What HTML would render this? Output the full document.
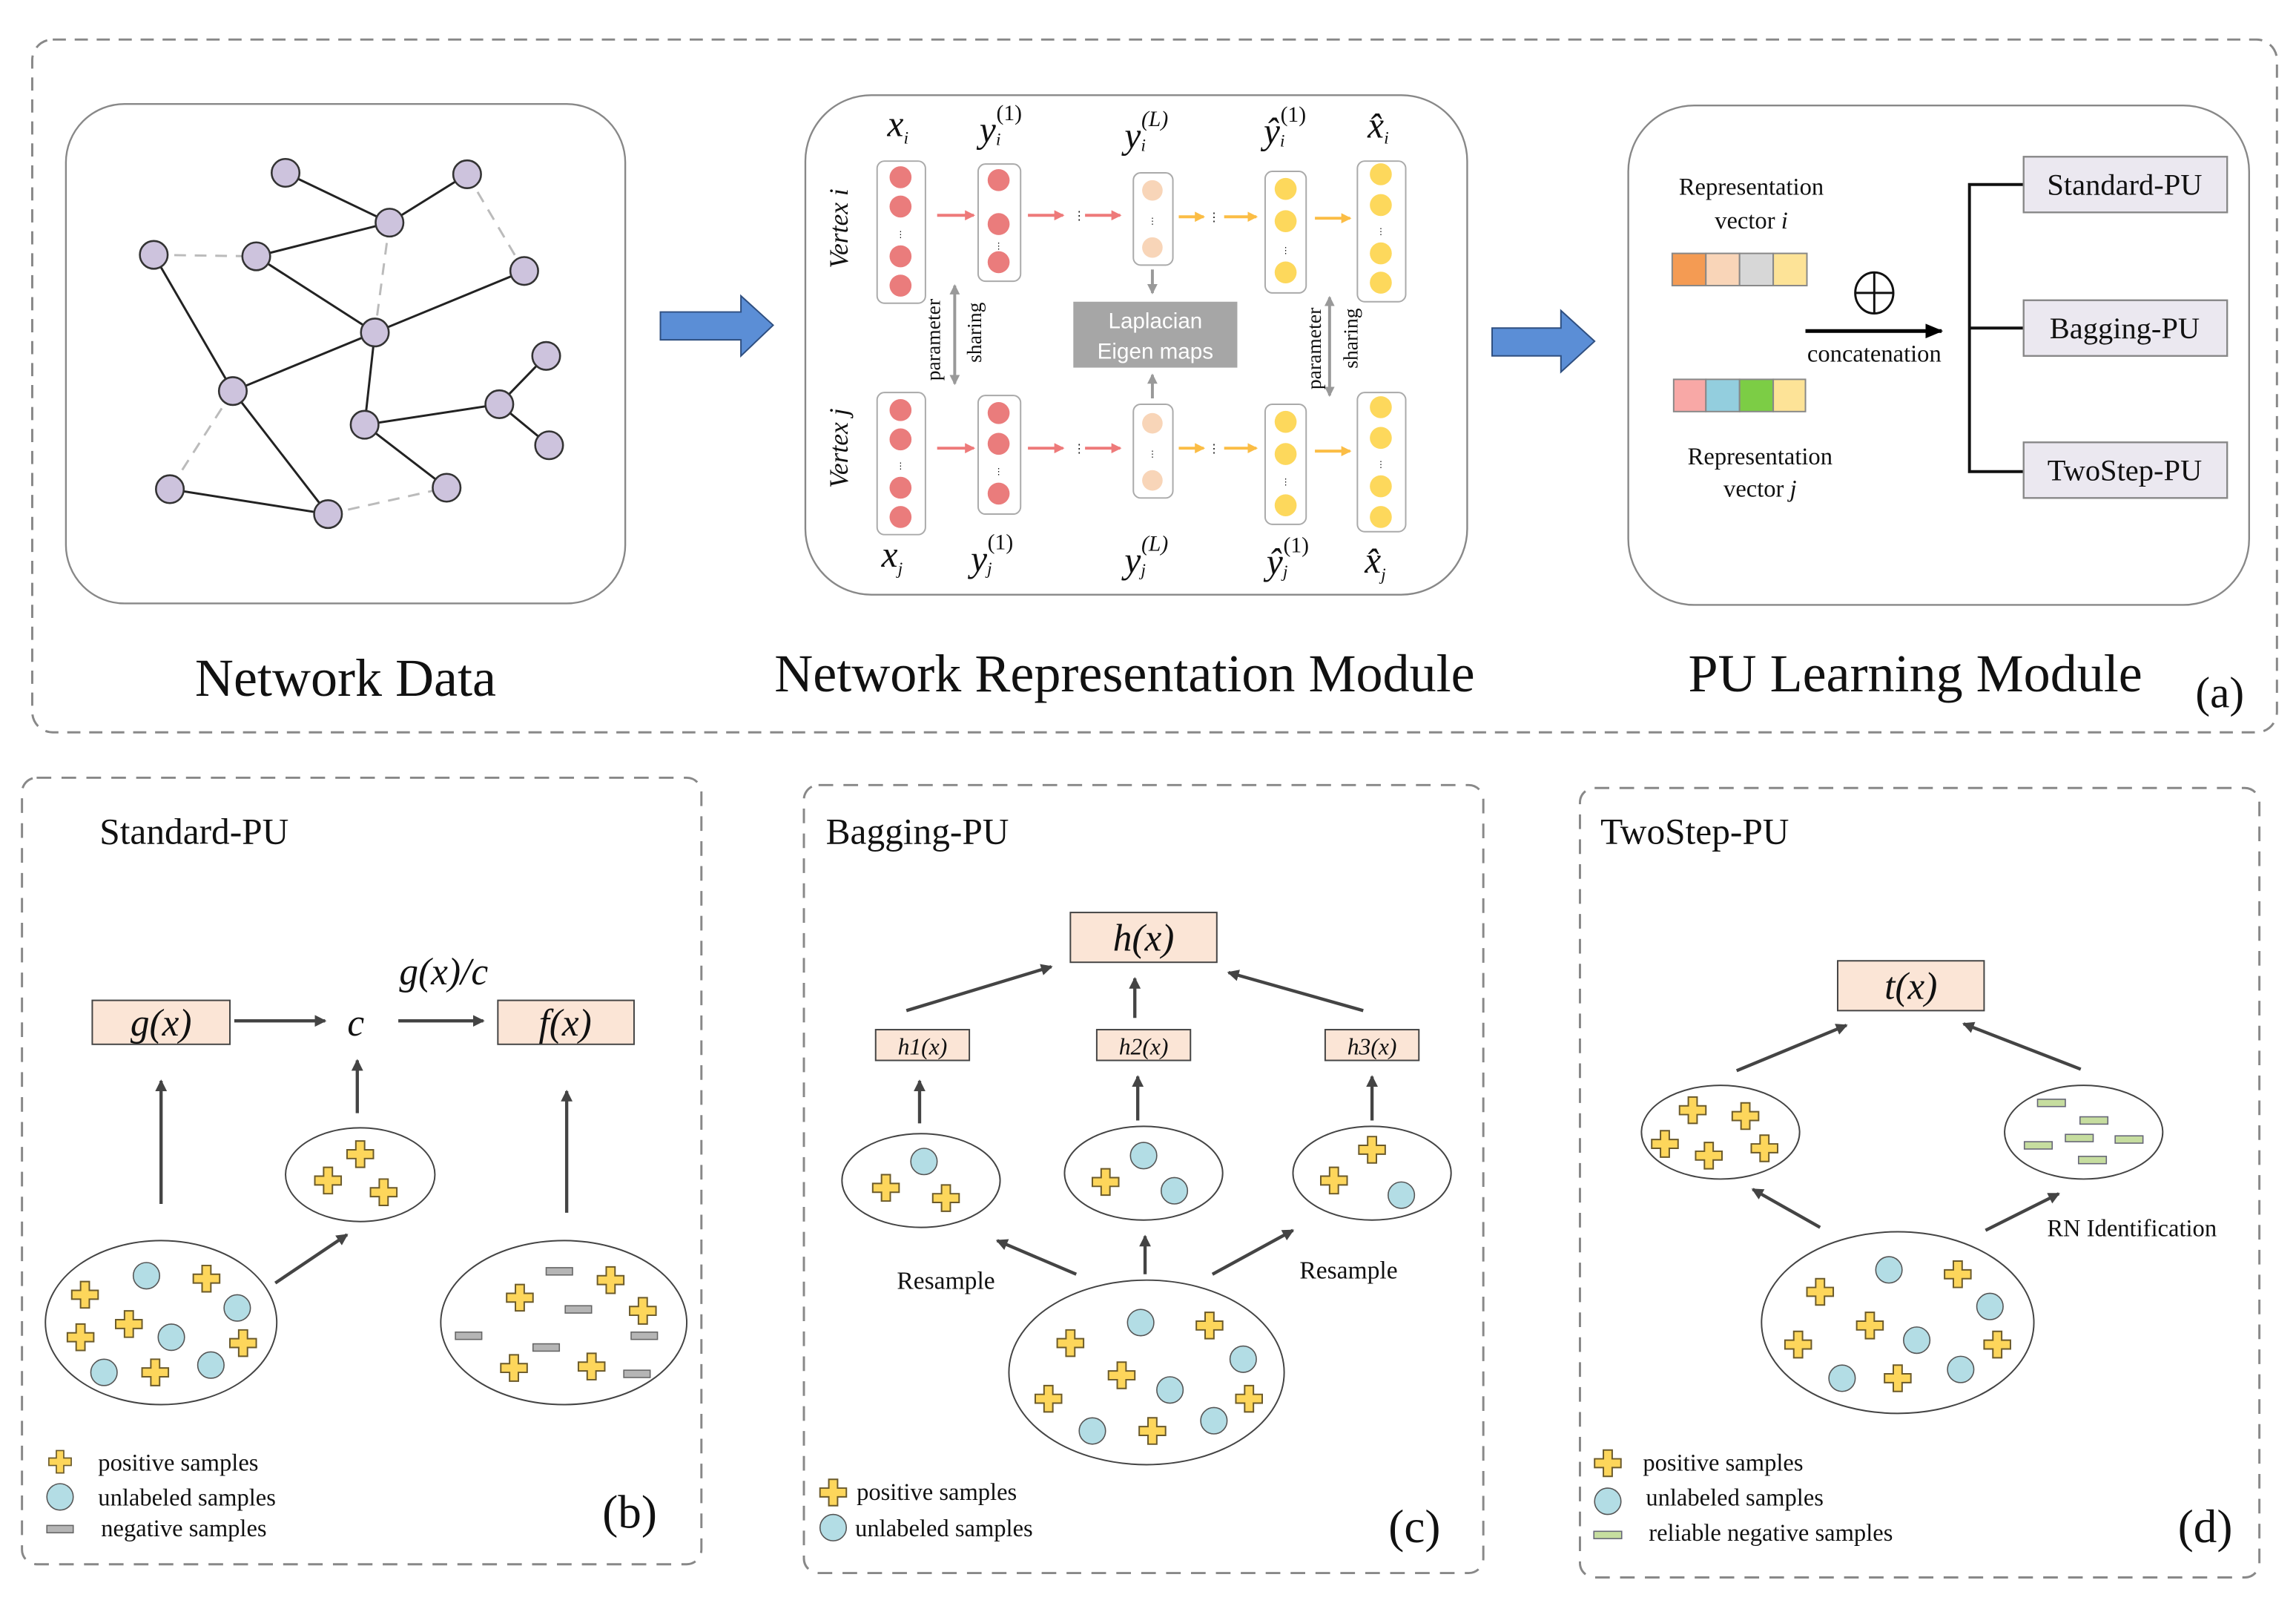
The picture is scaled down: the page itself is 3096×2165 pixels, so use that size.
<!DOCTYPE html>
<html><head><meta charset="utf-8"><style>
html,body{margin:0;padding:0;background:#fff}
svg{display:block}
text{font-family:"Liberation Serif",serif;fill:#111}
.sans{font-family:"Liberation Sans",sans-serif}
.it{font-style:italic}
</style></head><body>
<svg width="3096" height="2165" viewBox="0 0 1568 1096.5" xmlns="http://www.w3.org/2000/svg">
<defs>
<marker id="ah" markerWidth="8" markerHeight="8" refX="7" refY="4" orient="auto" markerUnits="userSpaceOnUse"><path d="M0,0 L8,4 L0,8 Z" fill="#444"/></marker>
<marker id="ahb" markerWidth="12" markerHeight="10" refX="11" refY="5" orient="auto" markerUnits="userSpaceOnUse"><path d="M0,0 L12,5 L0,10 Z" fill="#000"/></marker>
<marker id="ahr" markerWidth="7" markerHeight="7" refX="6" refY="3.5" orient="auto" markerUnits="userSpaceOnUse"><path d="M0,0 L7,3.5 L0,7 Z" fill="#ee7a7a"/></marker>
<marker id="ahy" markerWidth="7" markerHeight="7" refX="6" refY="3.5" orient="auto" markerUnits="userSpaceOnUse"><path d="M0,0 L7,3.5 L0,7 Z" fill="#fbbd45"/></marker>
<marker id="ahg" markerWidth="7" markerHeight="7" refX="6" refY="3.5" orient="auto" markerUnits="userSpaceOnUse"><path d="M0,0 L7,3.5 L0,7 Z" fill="#999"/></marker>
<marker id="ahg2" markerWidth="7" markerHeight="7" refX="1" refY="3.5" orient="auto" markerUnits="userSpaceOnUse"><path d="M7,0 L0,3.5 L7,7 Z" fill="#999"/></marker>
<path id="pl" d="M-3,-9 H3 V-3 H9 V3 H3 V9 H-3 V3 H-9 V-3 H-3 Z" fill="#fdd65b" stroke="#6b5a2a" stroke-width="1"/>
<circle id="uc" r="9" fill="#b3dde5" stroke="#555" stroke-width="0.8"/>
<rect id="ng" x="-9" y="-2.5" width="18" height="5" fill="#b5b5b5" stroke="#666" stroke-width="0.8"/>
<rect id="rn" x="-9.5" y="-2.5" width="19" height="5" fill="#c6dd9f" stroke="#667" stroke-width="0.8"/>
</defs>

<!-- (a) frame -->
<rect x="22" y="27" width="1533" height="473" rx="14" fill="none" stroke="#888" stroke-width="1.5" stroke-dasharray="9,6"/>

<!-- Network data -->
<rect x="45" y="71" width="382" height="341" rx="40" fill="none" stroke="#888" stroke-width="1.2"/>
<g stroke="#222" stroke-width="1.5">
<line x1="195" y1="118" x2="266" y2="152"/><line x1="266" y1="152" x2="319" y2="119"/>
<line x1="175" y1="175" x2="266" y2="152"/><line x1="105" y1="174" x2="159" y2="267"/>
<line x1="175" y1="175" x2="256" y2="227"/><line x1="256" y1="227" x2="358" y2="185"/>
<line x1="159" y1="267" x2="256" y2="227"/><line x1="159" y1="267" x2="224" y2="351"/>
<line x1="256" y1="227" x2="249" y2="290"/><line x1="249" y1="290" x2="341" y2="276"/>
<line x1="341" y1="276" x2="373" y2="243"/><line x1="341" y1="276" x2="375" y2="304"/>
<line x1="249" y1="290" x2="305" y2="333"/><line x1="116" y1="334" x2="224" y2="351"/>
</g>
<g stroke="#bbb" stroke-width="1.5" stroke-dasharray="8,6">
<line x1="105" y1="174" x2="175" y2="175"/><line x1="266" y1="152" x2="256" y2="227"/>
<line x1="319" y1="119" x2="358" y2="185"/><line x1="159" y1="267" x2="116" y2="334"/>
<line x1="224" y1="351" x2="305" y2="333"/>
</g>
<g fill="#cdc3dd" stroke="#333" stroke-width="1.3">
<circle cx="195" cy="118" r="9.5"/><circle cx="319" cy="119" r="9.5"/><circle cx="266" cy="152" r="9.5"/>
<circle cx="105" cy="174" r="9.5"/><circle cx="175" cy="175" r="9.5"/><circle cx="358" cy="185" r="9.5"/>
<circle cx="256" cy="227" r="9.5"/><circle cx="373" cy="243" r="9.5"/><circle cx="159" cy="267" r="9.5"/>
<circle cx="341" cy="276" r="9.5"/><circle cx="249" cy="290" r="9.5"/><circle cx="375" cy="304" r="9.5"/>
<circle cx="116" cy="334" r="9.5"/><circle cx="305" cy="333" r="9.5"/><circle cx="224" cy="351" r="9.5"/>
</g>

<!-- blue arrows -->
<path d="M451,213 H506 V202 L528,222 L506,243 V232 H451 Z" fill="#5b8ed6" stroke="#2f4f80" stroke-width="1"/>
<path d="M1019,224 H1066 V212 L1089,233 L1066,254 V243 H1019 Z" fill="#5b8ed6" stroke="#2f4f80" stroke-width="1"/>

<!-- Network representation -->
<rect x="550" y="65" width="452" height="341" rx="45" fill="none" stroke="#888" stroke-width="1.2"/>
<g fill="#fff" stroke="#aaa" stroke-width="1">
<rect x="599" y="110" width="33" height="97" rx="5"/><rect x="668" y="112" width="29" height="80" rx="5"/>
<rect x="774" y="118" width="27" height="63" rx="5"/><rect x="864" y="117" width="28" height="83" rx="5"/>
<rect x="927" y="110" width="33" height="96" rx="5"/>
<rect x="599" y="268" width="33" height="97" rx="5"/><rect x="668" y="270" width="29" height="81" rx="5"/>
<rect x="774" y="276" width="27" height="64" rx="5"/><rect x="864" y="276" width="28" height="82" rx="5"/>
<rect x="927" y="268" width="33" height="95" rx="5"/>
</g>
<g fill="#ea7c7c">
<circle cx="615" cy="121" r="7.5"/><circle cx="615" cy="141" r="7.5"/><circle cx="615" cy="175" r="7.5"/><circle cx="615" cy="195" r="7.5"/>
<circle cx="682" cy="123" r="7.5"/><circle cx="682" cy="153" r="7.5"/><circle cx="682" cy="179" r="7.5"/>
<circle cx="615" cy="280" r="7.5"/><circle cx="615" cy="300" r="7.5"/><circle cx="615" cy="333" r="7.5"/><circle cx="615" cy="353" r="7.5"/>
<circle cx="682" cy="282" r="7.5"/><circle cx="682" cy="303" r="7.5"/><circle cx="682" cy="337" r="7.5"/>
</g>
<g fill="#f8d5b8">
<circle cx="787" cy="130" r="7"/><circle cx="787" cy="169" r="7"/><circle cx="787" cy="289" r="7"/><circle cx="787" cy="328" r="7"/>
</g>
<g fill="#fdd85c">
<circle cx="878" cy="129" r="7.5"/><circle cx="878" cy="151" r="7.5"/><circle cx="878" cy="186" r="7.5"/>
<circle cx="943" cy="119" r="7.5"/><circle cx="943" cy="140" r="7.5"/><circle cx="943" cy="173" r="7.5"/><circle cx="943" cy="193" r="7.5"/>
<circle cx="878" cy="288" r="7.5"/><circle cx="878" cy="310" r="7.5"/><circle cx="878" cy="345" r="7.5"/>
<circle cx="943" cy="278" r="7.5"/><circle cx="943" cy="299" r="7.5"/><circle cx="943" cy="332" r="7.5"/><circle cx="943" cy="353" r="7.5"/>
</g>
<g fill="#bbb" font-size="6">
<text x="615" y="162" text-anchor="middle" class="sans">⋮</text><text x="682" y="170" text-anchor="middle" class="sans">⋮</text>
<text x="787" y="153" text-anchor="middle" class="sans">⋮</text><text x="878" y="173" text-anchor="middle" class="sans">⋮</text>
<text x="943" y="160" text-anchor="middle" class="sans">⋮</text>
<text x="615" y="320" text-anchor="middle" class="sans">⋮</text><text x="682" y="324" text-anchor="middle" class="sans">⋮</text>
<text x="787" y="312" text-anchor="middle" class="sans">⋮</text><text x="878" y="331" text-anchor="middle" class="sans">⋮</text>
<text x="943" y="319" text-anchor="middle" class="sans">⋮</text>
</g>
<g stroke-width="2">
<line x1="640" y1="147" x2="665" y2="147" stroke="#ee7a7a" marker-end="url(#ahr)"/>
<line x1="702" y1="147" x2="726" y2="147" stroke="#ee7a7a" marker-end="url(#ahr)"/>
<line x1="741" y1="147" x2="765" y2="147" stroke="#ee7a7a" marker-end="url(#ahr)"/>
<line x1="805" y1="148" x2="822" y2="148" stroke="#fbbd45" marker-end="url(#ahy)"/>
<line x1="836" y1="148" x2="858" y2="148" stroke="#fbbd45" marker-end="url(#ahy)"/>
<line x1="898" y1="149" x2="922" y2="149" stroke="#fbbd45" marker-end="url(#ahy)"/>
<line x1="640" y1="306" x2="665" y2="306" stroke="#ee7a7a" marker-end="url(#ahr)"/>
<line x1="702" y1="306" x2="726" y2="306" stroke="#ee7a7a" marker-end="url(#ahr)"/>
<line x1="741" y1="306" x2="765" y2="306" stroke="#ee7a7a" marker-end="url(#ahr)"/>
<line x1="805" y1="306" x2="822" y2="306" stroke="#fbbd45" marker-end="url(#ahy)"/>
<line x1="836" y1="306" x2="858" y2="306" stroke="#fbbd45" marker-end="url(#ahy)"/>
<line x1="898" y1="308" x2="922" y2="308" stroke="#fbbd45" marker-end="url(#ahy)"/>
</g>
<g fill="#bbb" font-size="8" class="sans"><text x="733" y="150">⋮</text><text x="825" y="151">⋮</text><text x="733" y="309">⋮</text><text x="825" y="309">⋮</text></g>
<g stroke="#999" stroke-width="2">
<line x1="652" y1="195" x2="652" y2="262" marker-end="url(#ahg)" marker-start="url(#ahg2)"/>
<line x1="908" y1="203" x2="908" y2="270" marker-end="url(#ahg)" marker-start="url(#ahg2)"/>
<line x1="787" y1="184" x2="787" y2="200" marker-end="url(#ahg)"/>
<line x1="787" y1="272" x2="787" y2="256" marker-end="url(#ahg)"/>
</g>
<g font-size="14">
<text transform="translate(642,232) rotate(-90)" text-anchor="middle">parameter</text>
<text transform="translate(670,227) rotate(-90)" text-anchor="middle">sharing</text>
<text transform="translate(902,238) rotate(-90)" text-anchor="middle">parameter</text>
<text transform="translate(927,231) rotate(-90)" text-anchor="middle">sharing</text>
</g>
<g font-size="18" class="it">
<text transform="translate(579,156) rotate(-90)" text-anchor="middle">Vertex i</text>
<text transform="translate(579,306) rotate(-90)" text-anchor="middle">Vertex j</text>
</g>
<rect x="733" y="206" width="112" height="45" fill="#a6a6a6"/>
<text x="789" y="224" font-size="15" text-anchor="middle" class="sans" style="fill:#fff">Laplacian</text>
<text x="789" y="245" font-size="15" text-anchor="middle" class="sans" style="fill:#fff">Eigen maps</text>
<g font-size="25" class="it">
<text x="606" y="93">x<tspan font-size="12" dy="5">i</tspan></text>
<text x="669" y="97">y<tspan font-size="12" dy="2">i</tspan><tspan font-size="15" font-style="normal" dx="-3" dy="-17">(1)</tspan></text>
<text x="768" y="101">y<tspan font-size="12" dy="2">i</tspan><tspan font-size="15" dx="-3" dy="-17">(L)</tspan></text>
<text x="863" y="98">ŷ<tspan font-size="12" dy="2">i</tspan><tspan font-size="15" font-style="normal" dx="-3" dy="-17">(1)</tspan></text>
<text x="934" y="94">x̂<tspan font-size="12" dy="4">i</tspan></text>
<text x="602" y="387">x<tspan font-size="12" dy="5">j</tspan></text>
<text x="663" y="390">y<tspan font-size="12" dy="2">j</tspan><tspan font-size="15" font-style="normal" dx="-3" dy="-17">(1)</tspan></text>
<text x="768" y="391">y<tspan font-size="12" dy="2">j</tspan><tspan font-size="15" dx="-3" dy="-17">(L)</tspan></text>
<text x="865" y="392">ŷ<tspan font-size="12" dy="2">j</tspan><tspan font-size="15" font-style="normal" dx="-3" dy="-17">(1)</tspan></text>
<text x="932" y="391">x̂<tspan font-size="12" dy="5">j</tspan></text>
</g>

<!-- PU learning module -->
<rect x="1112" y="72" width="424" height="341" rx="45" fill="none" stroke="#888" stroke-width="1.2"/>
<g font-size="16.5" text-anchor="middle">
<text x="1196" y="133">Representation</text><text x="1196" y="156">vector <tspan class="it">i</tspan></text>
<text x="1202" y="317">Representation</text><text x="1202" y="339">vector <tspan class="it">j</tspan></text>
<text x="1280" y="247">concatenation</text>
</g>
<g stroke="#888" stroke-width="1">
<rect x="1142" y="173" width="23" height="22" fill="#f49b53"/><rect x="1165" y="173" width="23" height="22" fill="#f9d5b8"/>
<rect x="1188" y="173" width="23" height="22" fill="#d7d7d7"/><rect x="1211" y="173" width="23" height="22" fill="#fde397"/>
<rect x="1143" y="259" width="22" height="22" fill="#f8a8a6"/><rect x="1165" y="259" width="23" height="22" fill="#93cede"/>
<rect x="1188" y="259" width="23" height="22" fill="#7ccd45"/><rect x="1211" y="259" width="22" height="22" fill="#fde397"/>
</g>
<ellipse cx="1280" cy="200" rx="13" ry="14" fill="none" stroke="#111" stroke-width="1.5"/>
<line x1="1267" y1="200" x2="1293" y2="200" stroke="#111" stroke-width="1.5"/><line x1="1280" y1="186" x2="1280" y2="214" stroke="#111" stroke-width="1.5"/>
<line x1="1233" y1="226" x2="1326" y2="226" stroke="#000" stroke-width="2.5" marker-end="url(#ahb)"/>
<path d="M1382,126 H1345 V322 H1382 M1345,224 H1382" fill="none" stroke="#111" stroke-width="2"/>
<g fill="#ebe8f0" stroke="#888" stroke-width="1.2">
<rect x="1382" y="107" width="139" height="38"/><rect x="1382" y="205" width="139" height="38"/><rect x="1382" y="302" width="139" height="38"/>
</g>
<g font-size="20.5" text-anchor="middle">
<text x="1451" y="133">Standard-PU</text><text x="1451" y="231">Bagging-PU</text><text x="1451" y="328">TwoStep-PU</text>
</g>
<g font-size="36.5" text-anchor="middle">
<text x="236" y="475">Network Data</text>
<text x="768" y="472">Network Representation Module</text>
<text x="1308" y="472">PU Learning Module</text>
<text x="1516" y="483" font-size="30">(a)</text>
</g>

<!-- (b) -->
<rect x="15" y="531" width="464" height="537" rx="10" fill="none" stroke="#888" stroke-width="1.5" stroke-dasharray="10,7"/>
<text x="68" y="576" font-size="25">Standard-PU</text>
<rect x="63" y="683" width="94" height="30" fill="#fbe5d6" stroke="#444" stroke-width="1"/>
<rect x="340" y="683" width="93" height="30" fill="#fbe5d6" stroke="#444" stroke-width="1"/>
<g font-size="26" class="it" text-anchor="middle">
<text x="110" y="707">g(x)</text><text x="386" y="707">f(x)</text><text x="243" y="707">c</text><text x="303" y="672">g(x)/c</text>
</g>
<g stroke="#444" stroke-width="2.2" fill="none" marker-end="url(#ah)">
<line x1="160" y1="697" x2="222" y2="697"/><line x1="272" y1="697" x2="330" y2="697"/>
<line x1="110" y1="822" x2="110" y2="738"/><line x1="244" y1="760" x2="244" y2="724"/>
<line x1="387" y1="828" x2="387" y2="745"/><line x1="188" y1="876" x2="237" y2="843"/>
</g>
<g fill="none" stroke="#444" stroke-width="1">
<ellipse cx="246" cy="802" rx="51" ry="32"/><ellipse cx="110" cy="903" rx="79" ry="56"/><ellipse cx="385" cy="903" rx="84" ry="56"/>
</g>
<use href="#pl" x="246" y="788"/><use href="#pl" x="224" y="806"/><use href="#pl" x="262" y="814"/>
<use href="#pl" x="58" y="884"/><use href="#pl" x="141" y="873"/><use href="#pl" x="88" y="904"/><use href="#pl" x="55" y="913"/><use href="#pl" x="166" y="917"/><use href="#pl" x="106" y="937"/>
<use href="#uc" x="100" y="871"/><use href="#uc" x="162" y="893"/><use href="#uc" x="117" y="913"/><use href="#uc" x="71" y="937"/><use href="#uc" x="144" y="932"/>
<use href="#pl" x="355" y="886"/><use href="#pl" x="417" y="874"/><use href="#pl" x="439" y="895"/><use href="#pl" x="351" y="934"/><use href="#pl" x="404" y="933"/>
<use href="#ng" x="382" y="868"/><use href="#ng" x="395" y="894"/><use href="#ng" x="320" y="912"/><use href="#ng" x="373" y="920"/><use href="#ng" x="440" y="912"/><use href="#ng" x="435" y="938"/>
<use href="#pl" x="41" y="998" transform="translate(41,998) scale(0.85) translate(-41,-998)"/><use href="#uc" x="41" y="1022"/><use href="#ng" x="41" y="1044"/>
<g font-size="16.5"><text x="67" y="1004">positive samples</text><text x="67" y="1028">unlabeled samples</text><text x="69" y="1049">negative samples</text></g>
<text x="430" y="1043" font-size="32" text-anchor="middle">(b)</text>

<!-- (c) -->
<rect x="549" y="536" width="464" height="538" rx="10" fill="none" stroke="#888" stroke-width="1.5" stroke-dasharray="10,7"/>
<text x="564" y="576" font-size="25">Bagging-PU</text>
<g fill="#fbe5d6" stroke="#444" stroke-width="1">
<rect x="731" y="623" width="100" height="34"/><rect x="598" y="703" width="64" height="21"/><rect x="749" y="703" width="64" height="21"/><rect x="905" y="703" width="64" height="21"/>
</g>
<g class="it" text-anchor="middle">
<text x="781" y="649" font-size="26">h(x)</text>
<text x="630" y="720" font-size="16">h1(x)</text><text x="781" y="720" font-size="16">h2(x)</text><text x="937" y="720" font-size="16">h3(x)</text>
</g>
<g stroke="#444" stroke-width="2.2" fill="none" marker-end="url(#ah)">
<line x1="619" y1="690" x2="718" y2="660"/><line x1="775" y1="695" x2="775" y2="668"/><line x1="931" y1="690" x2="839" y2="664"/>
<line x1="628" y1="767" x2="628" y2="738"/><line x1="777" y1="765" x2="777" y2="735"/><line x1="937" y1="765" x2="937" y2="735"/>
<line x1="735" y1="870" x2="681" y2="847"/><line x1="782" y1="870" x2="782" y2="844"/><line x1="828" y1="870" x2="883" y2="840"/>
</g>
<g fill="none" stroke="#444" stroke-width="1">
<ellipse cx="629" cy="806" rx="54" ry="32"/><ellipse cx="781" cy="801" rx="54" ry="32"/><ellipse cx="937" cy="801" rx="54" ry="32"/><ellipse cx="783" cy="937" rx="94" ry="63"/>
</g>
<use href="#pl" x="605" y="811"/><use href="#pl" x="646" y="818"/><use href="#uc" x="631" y="793"/>
<use href="#pl" x="755" y="807"/><use href="#uc" x="781" y="789"/><use href="#uc" x="802" y="813"/>
<use href="#pl" x="937" y="785"/><use href="#pl" x="911" y="806"/><use href="#uc" x="957" y="816"/>
<use href="#pl" x="731" y="917"/><use href="#pl" x="826" y="905"/><use href="#pl" x="766" y="939"/><use href="#pl" x="716" y="955"/><use href="#pl" x="853" y="955"/><use href="#pl" x="787" y="977"/>
<use href="#uc" x="779" y="903"/><use href="#uc" x="849" y="928"/><use href="#uc" x="799" y="949"/><use href="#uc" x="746" y="977"/><use href="#uc" x="829" y="970"/>
<g font-size="17" text-anchor="middle"><text x="646" y="880">Resample</text><text x="921" y="873">Resample</text></g>
<use href="#pl" x="569" y="1019"/><use href="#uc" x="569" y="1043"/>
<g font-size="16.5"><text x="585" y="1024">positive samples</text><text x="584" y="1049">unlabeled samples</text></g>
<text x="966" y="1053" font-size="32" text-anchor="middle">(c)</text>

<!-- (d) -->
<rect x="1079" y="538" width="464" height="539" rx="10" fill="none" stroke="#888" stroke-width="1.5" stroke-dasharray="10,7"/>
<text x="1093" y="576" font-size="25">TwoStep-PU</text>
<rect x="1255" y="656" width="100" height="34" fill="#fbe5d6" stroke="#444" stroke-width="1"/>
<text x="1305" y="682" font-size="26" class="it" text-anchor="middle">t(x)</text>
<g stroke="#444" stroke-width="2.2" fill="none" marker-end="url(#ah)">
<line x1="1186" y1="731" x2="1261" y2="700"/><line x1="1421" y1="730" x2="1341" y2="699"/>
<line x1="1243" y1="838" x2="1197" y2="812"/><line x1="1356" y1="840" x2="1406" y2="815"/>
</g>
<g fill="none" stroke="#444" stroke-width="1">
<ellipse cx="1175" cy="773" rx="54" ry="32"/><ellipse cx="1423" cy="773" rx="54" ry="32"/><ellipse cx="1296" cy="903" rx="93" ry="62"/>
</g>
<use href="#pl" x="1156" y="758"/><use href="#pl" x="1192" y="762"/><use href="#pl" x="1137" y="781"/><use href="#pl" x="1167" y="789"/><use href="#pl" x="1205" y="784"/>
<use href="#rn" x="1401" y="753"/><use href="#rn" x="1430" y="765"/><use href="#rn" x="1392" y="782"/><use href="#rn" x="1420" y="777"/><use href="#rn" x="1454" y="778"/><use href="#rn" x="1429" y="792"/>
<use href="#pl" x="1337" y="870"/><use href="#pl" x="1243" y="882"/><use href="#pl" x="1277" y="905"/><use href="#pl" x="1228" y="918"/><use href="#pl" x="1364" y="918"/><use href="#pl" x="1296" y="941"/>
<use href="#uc" x="1290" y="867"/><use href="#uc" x="1359" y="892"/><use href="#uc" x="1309" y="915"/><use href="#uc" x="1258" y="941"/><use href="#uc" x="1339" y="935"/>
<text x="1398" y="844" font-size="16.5">RN Identification</text>
<use href="#pl" x="1098" y="999"/><use href="#uc" x="1098" y="1025"/><use href="#rn" x="1098" y="1048"/>
<g font-size="16.5"><text x="1122" y="1004">positive samples</text><text x="1124" y="1028">unlabeled samples</text><text x="1126" y="1052">reliable negative samples</text></g>
<text x="1506" y="1053" font-size="32" text-anchor="middle">(d)</text>
</svg>
</body></html>
